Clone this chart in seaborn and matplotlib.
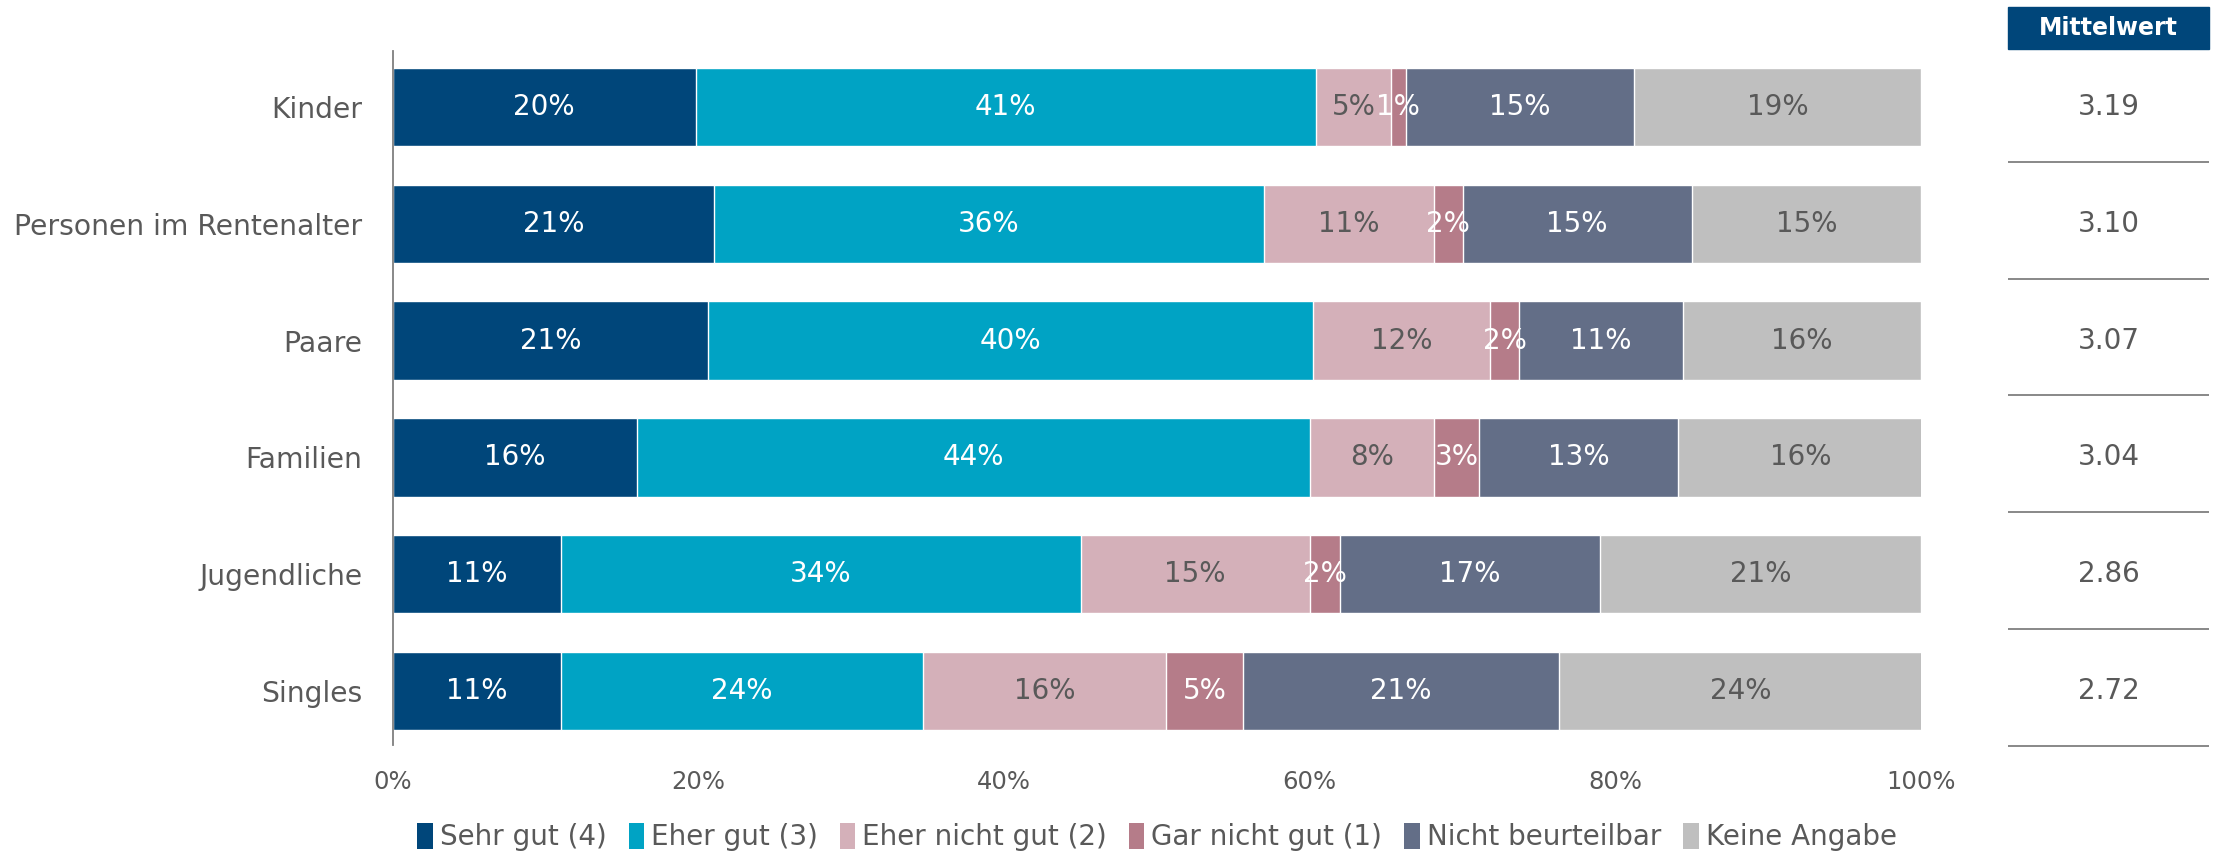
import numpy as np
import pandas as pd
import matplotlib.pyplot as plt
import seaborn as sns
from matplotlib.patches import Patch, Rectangle

groups = ['Kinder', 'Personen im Rentenalter', 'Paare', 'Familien', 'Jugendliche', 'Singles']
categories = ['Sehr gut (4)', 'Eher gut (3)', 'Eher nicht gut (2)', 'Gar nicht gut (1)',
              'Nicht beurteilbar', 'Keine Angabe']
sehr_gut = [19.8, 21.0, 20.6, 16.0, 11.0, 11.0]
eher_gut = [40.6, 36.0, 39.6, 44.0, 34.0, 23.7]
eher_nicht_gut = [4.9, 11.1, 11.6, 8.1, 15.0, 15.9]
gar_nicht_gut = [1.0, 1.9, 1.9, 3.0, 2.0, 5.0]
nicht_beurteilbar = [14.9, 15.0, 10.7, 13.0, 17.0, 20.7]
keine_angabe = [18.8, 15.0, 15.6, 16.0, 21.0, 23.8]
mittelwert = ['3.19', '3.10', '3.07', '3.04', '2.86', '2.72']

colors = ['#00467a', '#00a3c4', '#d4b0b9', '#b57c89', '#636e87', '#bfbfbf']
label_colors = ['white', 'white', '#595959', 'white', 'white', '#595959']
grey = '#595959'

series = [sehr_gut, eher_gut, eher_nicht_gut, gar_nicht_gut, nicht_beurteilbar, keine_angabe]
vals = np.array(series)
cum = vals.cumsum(axis=0)

sns.set_theme(style='white')
plt.rcParams['font.family'] = ['DejaVu Sans']

fig = plt.figure(figsize=(22.25, 8.56), dpi=100)
ax = fig.add_axes([393 / 2225, 1 - 749.4 / 856, (1921 - 393) / 2225, 700.8 / 856])

# stacked bars: draw cumulative totals from the right end backwards
for k in range(len(categories) - 1, -1, -1):
    d = pd.DataFrame({'group': groups, 'value': cum[k]})
    sns.barplot(data=d, x='value', y='group', orient='h', color=colors[k],
                width=0.67, saturation=1, ax=ax, zorder=2)

for k in range(len(categories)):
    for i in range(len(groups)):
        v = vals[k, i]
        ax.text(cum[k, i] - v / 2, i, f'{v:.0f}%', ha='center', va='center',
                fontsize=20, color=label_colors[k], zorder=5)

ax.set_xlim(0, 100)
ax.set_ylim(5.5, -0.5)
ax.set_xticks(range(0, 101, 20))
ax.set_xticklabels([f'{t}%' for t in range(0, 101, 20)])
ax.set_xlabel('')
ax.set_ylabel('')
ax.tick_params(axis='x', length=0, pad=15, labelsize=17.5, labelcolor=grey)
ax.tick_params(axis='y', length=0, pad=22, labelsize=20.3, labelcolor=grey)
for s in ['top', 'right', 'bottom']:
    ax.spines[s].set_visible(False)
ax.spines['left'].set_color('#7f7f7f')
ax.spines['left'].set_linewidth(1.3)
ax.spines['left'].set_bounds(-0.48, 5.46)

# table with mean values on the right
tx = fig.add_axes([2008 / 2225, 1 - 749.4 / 856, (2209 - 2008) / 2225, 700.8 / 856])
tx.set_xlim(0, 1)
tx.set_ylim(5.5, -0.5)
tx.axis('off')
for i, m in enumerate(mittelwert):
    tx.text(0.5, i, m, ha='center', va='center', fontsize=20, color=grey)
    tx.axhline(i + 0.47, color='#7f7f7f', linewidth=1.3)
tx.add_patch(Rectangle((0, -0.5), 1, -0.36, color='#00467a', clip_on=False))
tx.text(0.5, -0.68, 'Mittelwert', ha='center', va='center', fontsize=17,
        fontweight='bold', color='white', clip_on=False)

handles = [Patch(facecolor=c, edgecolor='none') for c in colors]
fig.legend(handles, categories, loc='center', ncol=6, frameon=False,
           bbox_to_anchor=(1157 / 2225, 1 - 837 / 856),
           prop={'size': 20}, labelcolor=grey,
           handlelength=0.55, handleheight=1.1,
           handletextpad=0.25, columnspacing=0.8, borderaxespad=0)

fig.savefig('out.png', dpi=100)
